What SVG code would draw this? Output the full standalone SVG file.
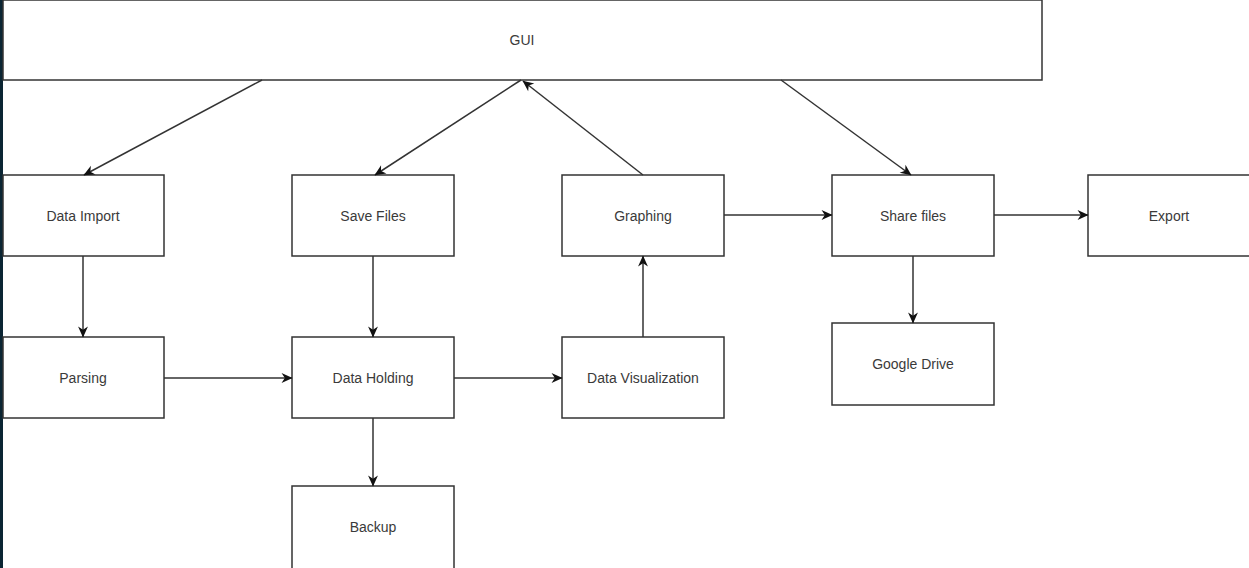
<svg xmlns="http://www.w3.org/2000/svg" width="1249" height="568" viewBox="0 0 1249 568">
<style>
.box{fill:#fff;stroke:#333;stroke-width:1.5}
.lbl{font-family:"Liberation Sans",Arial,sans-serif;font-size:14px;fill:#3a3a3a;text-anchor:middle;dominant-baseline:central}
.edge{stroke:#333;stroke-width:1.5;fill:none;marker-end:url(#ah)}
</style>
<defs>
<marker id="ah" viewBox="0 0 10 10" refX="9.5" refY="5" markerWidth="12" markerHeight="11" markerUnits="userSpaceOnUse" orient="auto">
<path d="M0,0.5 L10,5 L0,9.5 L3,5 Z" fill="#111"/>
</marker>
</defs>
<rect x="0" y="0" width="1249" height="568" fill="#fff"/>
<rect x="0" y="0" width="3" height="568" fill="#0b2533"/>
<g id="gui"><rect class="box" x="3" y="0" width="1039" height="80"/><text class="lbl" x="522" y="40">GUI</text></g>
<g id="data-import"><rect class="box" x="3" y="175" width="161" height="81"/><text class="lbl" x="83" y="216">Data Import</text></g>
<g id="parsing"><rect class="box" x="3" y="337" width="161" height="81"/><text class="lbl" x="83" y="378">Parsing</text></g>
<g id="save-files"><rect class="box" x="292" y="175" width="162" height="81"/><text class="lbl" x="373" y="216">Save Files</text></g>
<g id="data-holding"><rect class="box" x="292" y="337" width="162" height="81"/><text class="lbl" x="373" y="378">Data Holding</text></g>
<g id="backup"><rect class="box" x="292" y="486" width="162" height="86"/><text class="lbl" x="373" y="527">Backup</text></g>
<g id="graphing"><rect class="box" x="562" y="175" width="162" height="81"/><text class="lbl" x="643" y="216">Graphing</text></g>
<g id="data-visualization"><rect class="box" x="562" y="337" width="162" height="81"/><text class="lbl" x="643" y="378">Data Visualization</text></g>
<g id="share-files"><rect class="box" x="832" y="175" width="162" height="81"/><text class="lbl" x="913" y="216">Share files</text></g>
<g id="google-drive"><rect class="box" x="832" y="323" width="162" height="82"/><text class="lbl" x="913" y="364">Google Drive</text></g>
<g id="export"><rect class="box" x="1088" y="175" width="170" height="81"/><text class="lbl" x="1169" y="216">Export</text></g>
<g id="connectors">
<line class="edge" x1="262" y1="80" x2="84" y2="175"/>
<line class="edge" x1="521" y1="80" x2="375" y2="175"/>
<line class="edge" x1="643" y1="175" x2="523" y2="81"/>
<line class="edge" x1="781" y1="80" x2="911" y2="175"/>
<line class="edge" x1="83" y1="256" x2="83" y2="337"/>
<line class="edge" x1="164" y1="378" x2="292" y2="378"/>
<line class="edge" x1="373" y1="256" x2="373" y2="337"/>
<line class="edge" x1="454" y1="378" x2="562" y2="378"/>
<line class="edge" x1="373" y1="418" x2="373" y2="486"/>
<line class="edge" x1="643" y1="337" x2="643" y2="256"/>
<line class="edge" x1="724" y1="215" x2="832" y2="215"/>
<line class="edge" x1="994" y1="215" x2="1088" y2="215"/>
<line class="edge" x1="913" y1="256" x2="913" y2="323"/>
</g>
</svg>
